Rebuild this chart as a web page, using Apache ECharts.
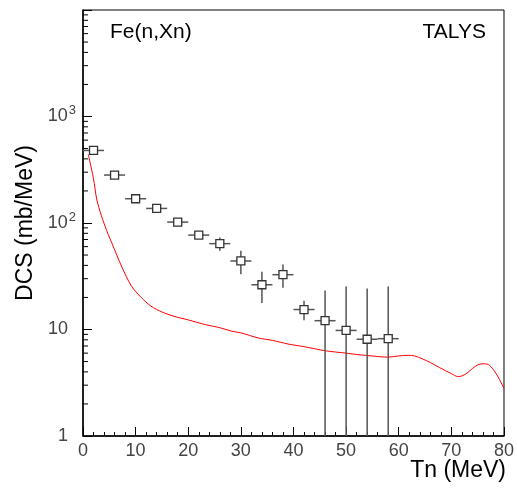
<!DOCTYPE html>
<html>
<head>
<meta charset="utf-8">
<script src="https://cdn.jsdelivr.net/npm/echarts@6/dist/echarts.min.js"></script>
<style>html,body{margin:0;padding:0;background:#fff;}#c{width:517px;height:488px;}</style>
</head>
<body>
<div id="c"></div>
<script>
// Experimental points (Tn in MeV, DCS in mb/MeV)
var expX = [2, 6, 10, 14, 18, 22, 26, 30, 34, 38, 42, 46, 50, 54, 58];
var expY = [480, 282, 169, 137, 102, 77, 64, 44, 26.3, 32.7, 15.4, 12.1, 9.8, 8.1, 8.2];
var expErrY = [25, 15, 10, 8, 6, 5, 9, 11, 8.6, 8, 3.2, 11.2, 15.6, 16.2, 17.2];
var expErrX = [2, 2, 2, 2, 2, 2, 2, 2, 2, 2, 2, 2, 2, 2, 2];

// TALYS calculation
var talysX = [1, 2, 2.6, 3.5, 4.5, 5.7, 7.3, 9.2, 11.1, 12.9, 15, 17.3, 20, 23.3, 26, 28.3, 30, 33.3, 36, 39, 42, 46.2, 50, 51.8, 54, 58, 60, 61.8, 63, 64.5, 66, 67.8, 70, 71.2, 72, 73.1, 74, 75, 76, 77, 78, 79, 80];
var talysY = [440, 260, 168, 117, 85, 61, 39.5, 25.6, 19.9, 16.6, 14.6, 13.3, 12.3, 11.1, 10.4, 9.64, 9.3, 8.33, 7.9, 7.3, 6.9, 6.3, 6.0, 5.84, 5.7, 5.5, 5.65, 5.72, 5.65, 5.3, 4.9, 4.38, 3.85, 3.62, 3.66, 3.94, 4.3, 4.65, 4.77, 4.7, 4.2, 3.5, 2.8];

// Axis ticks
var yMin = 1, yMax = 10000;
var xMin = 0, xMax = 80;
var yMinorTicks = [];
[1, 10, 100, 1000].forEach(function (d) {
  for (var k = 2; k <= 9; k++) yMinorTicks.push(k * d);
});
var yLabels = {1: '1{p|}', 10: '10{p|}', 100: '10{s|2}', 1000: '10{s|3}'};

var FONT = '"Liberation Sans", Arial, Helvetica, sans-serif';

var chart = echarts.init(document.getElementById('c'), null, {renderer: 'canvas'});

var expData = expX.map(function (x, i) { return [x, expY[i], expErrX[i], expErrY[i]]; });

chart.setOption({
  animation: false,
  backgroundColor: '#fff',
  grid: {left: 83, right: 9, top: 10, bottom: 52, show: true, borderColor: '#000', borderWidth: 1, backgroundColor: 'transparent'},
  xAxis: {
    type: 'value', min: xMin, max: xMax, interval: 10,
    axisLine: {show: true, lineStyle: {color: '#000', width: 1.5}},
    axisTick: {show: true, inside: true, length: 9, lineStyle: {color: '#000', width: 1}},
    minorTick: {show: true, splitNumber: 5, length: 4, lineStyle: {color: '#000', width: 1}},
    axisLabel: {color: '#444', fontFamily: FONT, fontSize: 18, margin: 6},
    splitLine: {show: false}
  },
  yAxis: {
    type: 'log', logBase: 10, min: yMin, max: yMax,
    axisLine: {show: true, lineStyle: {color: '#000', width: 1.5}},
    axisTick: {show: true, inside: true, length: 9, lineStyle: {color: '#000', width: 1}},
    axisLabel: {
      color: '#444', fontFamily: FONT, fontSize: 18, margin: 7,
      formatter: function (v) { return yLabels[Math.round(v)] || ''; },
      rich: {
        s: {fontSize: 13, color: '#444', fontFamily: FONT, padding: [0, 0, 12, 1]},
        p: {width: 8}
      }
    },
    splitLine: {show: false},
    name: 'DCS (mb/MeV)', nameLocation: 'middle', nameGap: 46, nameRotate: 90,
    nameTextStyle: {color: '#000', fontFamily: FONT, fontSize: 23}
  },
  series: [
    {
      type: 'custom',
      name: 'yminor',
      silent: true,
      data: yMinorTicks.map(function (v) { return [xMin, v]; }),
      renderItem: function (params, api) {
        var p = api.coord([xMin, api.value(1)]);
        return {type: 'line', shape: {x1: p[0], y1: p[1], x2: p[0] + 5, y2: p[1]}, style: {stroke: '#000', lineWidth: 1}};
      },
      z: 5
    },
    {
      type: 'line',
      name: 'TALYS',
      data: talysX.map(function (x, i) { return [x, talysY[i]]; }),
      showSymbol: false,
      symbol: 'none',
      smooth: 0.3,
      lineStyle: {color: '#ff0000', width: 1},
      z: 3
    },
    {
      type: 'custom',
      name: 'exp',
      data: expData,
      renderItem: function (params, api) {
        var x = api.value(0), y = api.value(1), ex = api.value(2), ey = api.value(3);
        var c = api.coord([x, y]);
        var l = api.coord([x - ex, y]);
        var r = api.coord([x + ex, y]);
        var lo = y - ey > yMin ? y - ey : yMin;
        var b = api.coord([x, lo]);
        var t = api.coord([x, y + ey]);
        var h = 4;
        var st = {stroke: '#555', lineWidth: 1.5};
        return {
          type: 'group',
          children: [
            {type: 'line', shape: {x1: l[0], y1: c[1], x2: r[0], y2: c[1]}, style: st},
            {type: 'line', shape: {x1: c[0], y1: t[1], x2: c[0], y2: b[1]}, style: st},
            {type: 'rect', shape: {x: c[0] - h, y: c[1] - h, width: 2 * h, height: 2 * h}, style: {fill: '#fff', stroke: '#333', lineWidth: 1.3}}
          ]
        };
      },
      z: 4
    }
  ],
  graphic: [
    {type: 'text', left: 110, top: 22, style: {text: 'Fe(n,Xn)', fontFamily: FONT, fontSize: 21, fill: '#000'}},
    {type: 'text', right: 31, top: 22, style: {text: 'TALYS', fontFamily: FONT, fontSize: 21, fill: '#000'}},
    {type: 'text', right: 11, top: 459, style: {text: 'Tn (MeV)', fontFamily: FONT, fontSize: 23, fill: '#000'}}
  ]
});
</script>
</body>
</html>
